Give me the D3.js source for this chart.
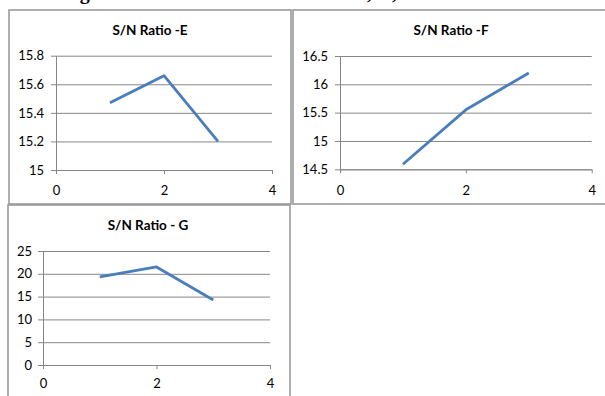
<!DOCTYPE html>
<html>
<head>
<meta charset="utf-8">
<script src="https://cdn.jsdelivr.net/npm/d3@7"></script>
<style>
  html, body { margin: 0; padding: 0; background: #fff; }
  svg { display: block; }
</style>
</head>
<body>
<svg id="chart" width="605" height="396"></svg>
<script>
// Factor levels on the x axis and mean S/N ratio per level
const levels = [1, 2, 3];
const snE = [15.47, 15.66, 15.2];
const snF = [14.59, 15.55, 16.2];
const snG = [19.3, 21.5, 14.25];

// Axis ticks
const xTicks = [0, 2, 4];
const yTicksE = [15, 15.2, 15.4, 15.6, 15.8];
const yTicksF = [14.5, 15, 15.5, 16, 16.5];
const yTicksG = [0, 5, 10, 15, 20, 25];

const titles = ["S/N Ratio -E", "S/N Ratio -F", "S/N Ratio - G"];

const svg = d3.select("#chart");
const FONT = "Lato, 'Open Sans', sans-serif";

// Caption above the panels (only its lower edge falls inside the view)
const cap = svg.append("text")
  .attr("y", -1)
  .attr("font-family", "'Liberation Serif', serif")
  .attr("font-weight", "bold")
  .attr("font-size", 20)
  .attr("fill", "#000");
cap.append("tspan").attr("x", 62).text("Figure 8 Main Effects for E");
cap.append("tspan").attr("x", 367).text(", F");
cap.append("tspan").attr("x", 392).text(", G");

const panels = [
  { title: titles[0], values: snE, yTicks: yTicksE, box: [9, 10, 282, 194],
    plot: { l: 56, r: 272, t: 55.7, b: 170 }, titleX: 150, titleY: 30, xLabelY: 190, pad: 12 },
  { title: titles[1], values: snF, yTicks: yTicksF, box: [293, 10, 330, 194],
    plot: { l: 340, r: 591.7, t: 56, b: 169.3 }, titleX: 451, titleY: 30, xLabelY: 190, pad: 12 },
  { title: titles[2], values: snG, yTicks: yTicksG, box: [8, 205, 282, 200],
    plot: { l: 43, r: 270, t: 251, b: 365 }, titleX: 148, titleY: 225, xLabelY: 383, pad: 11 }
];

panels.forEach(p => {
  const g = svg.append("g");
  const [bx, by, bw, bh] = p.box;

  g.append("rect")
    .attr("x", bx).attr("y", by).attr("width", bw).attr("height", bh)
    .attr("fill", "#fff").attr("stroke", "#9a9a9a").attr("stroke-width", 1.6);

  const x = d3.scaleLinear().domain([xTicks[0], xTicks[xTicks.length - 1]])
    .range([p.plot.l, p.plot.r]);
  const y = d3.scaleLinear().domain([p.yTicks[0], p.yTicks[p.yTicks.length - 1]])
    .range([p.plot.b, p.plot.t]);

  // Horizontal gridlines with left tick marks
  const yAxis = d3.axisLeft(y).tickValues(p.yTicks)
    .tickSize(-(p.plot.r - p.plot.l)).tickSizeOuter(0).tickPadding(p.pad)
    .tickFormat(d3.format("~g"));
  const ya = g.append("g").attr("transform", `translate(${p.plot.l},0)`).call(yAxis);
  ya.select(".domain").attr("stroke", "#868686");
  ya.selectAll(".tick line").attr("stroke", "#868686").attr("x1", -5);
  ya.selectAll(".tick text").attr("font-family", FONT).attr("font-size", 13).attr("fill", "#000");

  // Bottom axis with downward tick marks
  const xAxis = d3.axisBottom(x).tickValues(xTicks).tickSize(4).tickSizeOuter(0).tickPadding(7)
    .tickFormat(d3.format("d"));
  const xa = g.append("g").attr("transform", `translate(0,${p.plot.b})`).call(xAxis);
  xa.select(".domain").attr("stroke", "#868686");
  xa.selectAll(".tick line").attr("stroke", "#868686");
  xa.selectAll(".tick text").attr("font-family", FONT).attr("font-size", 13).attr("fill", "#000")
    .attr("y", null).attr("dy", null)
    .attr("transform", `translate(0,${p.xLabelY - p.plot.b})`)
    .attr("dominant-baseline", "central");

  // Series line
  const line = d3.line().x((d, i) => x(levels[i])).y(d => y(d));
  g.append("path").datum(p.values)
    .attr("d", line)
    .attr("fill", "none")
    .attr("stroke", "#4a7ebb")
    .attr("stroke-width", 2.8)
    .attr("stroke-linejoin", "round");

  g.append("text")
    .attr("x", p.titleX).attr("y", p.titleY)
    .attr("text-anchor", "middle").attr("dominant-baseline", "central")
    .attr("font-family", FONT).attr("font-weight", "bold").attr("font-size", 13.5)
    .attr("fill", "#000")
    .text(p.title);
});
</script>
</body>
</html>
